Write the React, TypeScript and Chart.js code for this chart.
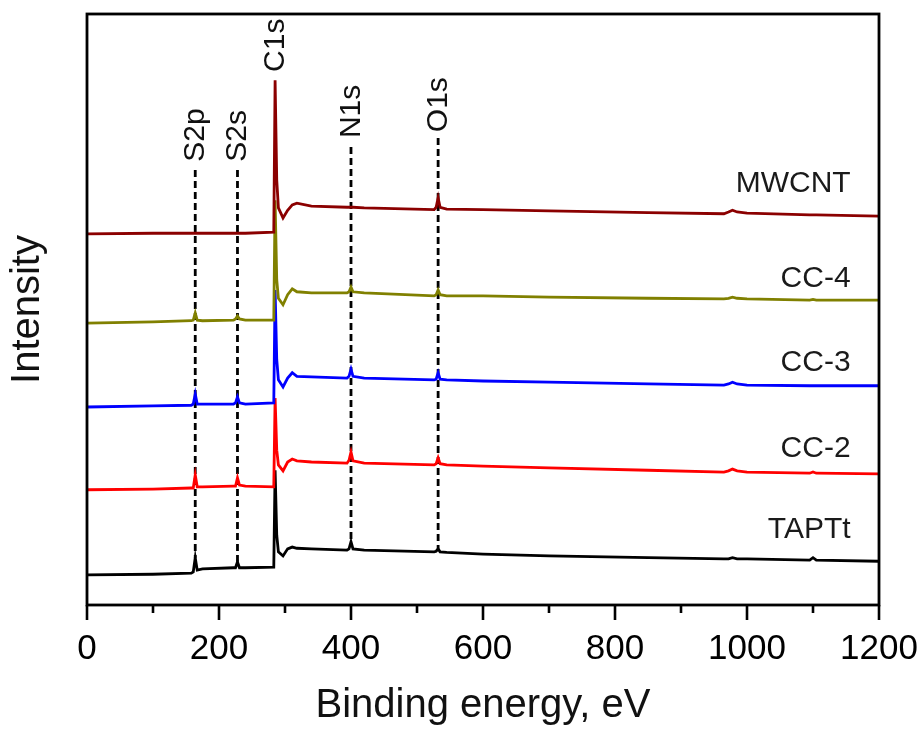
import { useEffect, useRef } from "react";
import { Chart, registerables } from "chart.js";

Chart.register(...registerables);

// Binding energy grid (eV) shared by all survey spectra
const energies = [
  0, 100, 158, 161, 164, 167, 175, 222, 225, 228, 231, 240, 283, 285, 287.5, 290,
  297, 304, 311, 318, 340, 394, 397, 400, 403, 420, 526, 529, 532, 535, 545, 600,
  700, 850, 965, 972, 978, 985, 1000, 1095, 1100, 1105, 1200,
];

// Stacked intensities (arbitrary units, offset per sample)
const mwcnt = [
  62.8, 62.9, 62.9, 62.9, 62.9, 62.9, 62.9, 62.9, 62.9, 62.9, 62.9, 62.9, 63.1, 88.8, 71.9, 67.2,
  65.5, 66.8, 67.7, 68.0, 67.5, 67.3, 67.3, 67.3, 67.3, 67.2, 66.9, 67.3, 68.9, 67.3, 67.0, 66.9,
  66.7, 66.4, 66.2, 66.5, 66.8, 66.5, 66.3, 66.0, 66.0, 66.0, 65.8,
];
const cc4 = [
  47.7, 47.9, 48.1, 48.2, 49.4, 48.2, 48.1, 48.2, 48.4, 48.9, 48.4, 48.2, 48.2, 68.5, 55.0, 51.9,
  50.8, 52.5, 53.5, 53.0, 52.8, 52.8, 53.0, 53.8, 53.0, 52.8, 52.3, 52.5, 53.3, 52.5, 52.3, 52.3,
  52.1, 51.9, 51.8, 51.9, 52.1, 51.9, 51.8, 51.6, 51.7, 51.6, 51.6,
];
const cc3 = [
  33.5, 33.7, 33.8, 34.0, 35.7, 34.0, 34.0, 34.0, 34.2, 35.2, 34.2, 34.0, 34.2, 53.3, 41.5, 38.1,
  36.9, 38.4, 39.3, 38.7, 38.6, 38.4, 38.7, 39.9, 38.7, 38.4, 38.1, 38.2, 39.3, 38.2, 38.1, 37.9,
  37.7, 37.4, 37.2, 37.4, 37.7, 37.4, 37.2, 37.1, 37.1, 37.1, 37.1,
];
const cc2 = [
  19.5, 19.6, 19.8, 19.8, 22.0, 20.0, 20.0, 20.1, 20.1, 21.5, 20.3, 20.1, 20.0, 35.0, 26.2, 23.7,
  22.7, 24.2, 24.7, 24.4, 24.2, 24.0, 24.5, 25.9, 24.4, 24.0, 23.7, 23.9, 24.9, 23.9, 23.7, 23.5,
  23.2, 22.8, 22.5, 22.7, 23.0, 22.7, 22.5, 22.3, 22.5, 22.3, 22.2,
];
const taptt = [
  5.1, 5.2, 5.4, 5.6, 8.0, 5.9, 6.1, 6.3, 6.3, 7.3, 6.3, 6.3, 6.4, 22.8, 11.8, 9.0,
  8.3, 9.5, 9.8, 9.6, 9.5, 9.3, 9.5, 10.7, 9.5, 9.3, 9.0, 9.1, 9.5, 9.0, 8.9, 8.6,
  8.3, 8.0, 7.8, 7.8, 8.0, 7.8, 7.8, 7.6, 8.0, 7.6, 7.4,
];

const seriesNames = ["MWCNT", "CC-4", "CC-3", "CC-2", "TAPTt"];
const seriesValues = [mwcnt, cc4, cc3, cc2, taptt];
const seriesColors = ["#8b0000", "#808000", "#0000ff", "#ff0000", "#000000"];
// Intensity level at which each sample name is written
const seriesLabelLevels = [69.9, 53.8, 39.6, 25.0, 11.3];
const seriesLabelEnergy = 1157;

// Core-level assignments
const peakNames = ["S2p", "S2s", "C1s", "N1s", "O1s"];
const peakEnergies = [164, 228, 285, 400, 532];
const peakLineTops: (number | null)[] = [73.6, 73.6, null, 77.5, 79.0];
const peakLabelLevels = [75.0, 75.0, 90.2, 79.0, 80.0];

const xTicks = [0, 200, 400, 600, 800, 1000, 1200];

const FONT = '"Liberation Sans", Arial, sans-serif';

const decorations = {
  id: "xpsDecorations",
  beforeDatasetsDraw(chart: any) {
    const { ctx, scales } = chart;
    const x = scales.x;
    const y = scales.y;
    ctx.save();
    ctx.setLineDash([7, 4]);
    ctx.lineWidth = 2.8;
    ctx.strokeStyle = "#000";
    peakEnergies.forEach((e, i) => {
      const top = peakLineTops[i];
      if (top == null) return;
      const idx = energies.indexOf(e);
      const bottom = taptt[idx];
      const px = x.getPixelForValue(e);
      ctx.beginPath();
      ctx.moveTo(px, y.getPixelForValue(top));
      ctx.lineTo(px, y.getPixelForValue(bottom));
      ctx.stroke();
    });
    ctx.restore();
  },
  afterDatasetsDraw(chart: any) {
    const { ctx, chartArea, scales } = chart;
    const x = scales.x;
    const y = scales.y;
    ctx.save();
    // frame
    ctx.lineWidth = 2.8;
    ctx.strokeStyle = "#000";
    ctx.strokeRect(
      chartArea.left,
      chartArea.top,
      chartArea.right - chartArea.left,
      chartArea.bottom - chartArea.top
    );
    // outward tick marks: major every 200 eV, minor in between
    ctx.lineWidth = 2.6;
    for (let v = 0; v <= 1200; v += 100) {
      const px = x.getPixelForValue(v);
      const len = xTicks.includes(v) ? 15 : 8;
      ctx.beginPath();
      ctx.moveTo(px, chartArea.bottom);
      ctx.lineTo(px, chartArea.bottom + len);
      ctx.stroke();
    }
    // peak assignment labels, rotated
    ctx.fillStyle = "#111";
    ctx.font = `30px ${FONT}`;
    ctx.textAlign = "left";
    ctx.textBaseline = "alphabetic";
    peakNames.forEach((name, i) => {
      const px = x.getPixelForValue(peakEnergies[i]);
      const py = y.getPixelForValue(peakLabelLevels[i]);
      ctx.save();
      ctx.translate(px + 9, py);
      ctx.rotate(-Math.PI / 2);
      ctx.fillText(name, 0, 0);
      ctx.restore();
    });
    // sample names
    ctx.textAlign = "right";
    ctx.fillStyle = "#1a1a1a";
    seriesNames.forEach((name, i) => {
      ctx.fillText(
        name,
        x.getPixelForValue(seriesLabelEnergy),
        y.getPixelForValue(seriesLabelLevels[i])
      );
    });
    ctx.restore();
  },
};

export default function App() {
  const canvasRef = useRef<HTMLCanvasElement | null>(null);

  useEffect(() => {
    const canvas = canvasRef.current;
    if (!canvas) return;
    const chart = new Chart(canvas, {
      type: "line",
      data: {
        datasets: seriesNames.map((name, i) => ({
          label: name,
          data: energies.map((e, k) => ({ x: e, y: seriesValues[i][k] })),
          borderColor: seriesColors[i],
          backgroundColor: seriesColors[i],
          borderWidth: 2.8,
          pointRadius: 0,
          tension: 0,
          fill: false,
        })),
      },
      options: {
        animation: false,
        responsive: false,
        devicePixelRatio: 1,
        layout: { padding: { left: 0, top: 14, right: 43, bottom: 0 } },
        plugins: { legend: { display: false }, tooltip: { enabled: false } },
        scales: {
          x: {
            type: "linear",
            min: 0,
            max: 1200,
            ticks: {
              stepSize: 100,
              autoSkip: false,
              maxRotation: 0,
              padding: 23,
              color: "#000",
              font: { family: FONT, size: 35 },
              callback: (v: any) => (xTicks.includes(Number(v)) ? String(v) : ""),
            },
            grid: { display: false, drawTicks: false },
            border: { display: false },
            title: {
              display: true,
              text: "Binding energy, eV",
              color: "#111",
              font: { family: FONT, size: 40 },
              padding: { top: 0, bottom: 0 },
            },
            afterFit: (s: any) => {
              s.height = 125;
              s.paddingLeft = 0;
              s.paddingRight = 0;
            },
          },
          y: {
            type: "linear",
            min: 0,
            max: 100,
            ticks: { display: false },
            grid: { display: false, drawTicks: false },
            border: { display: false },
            title: {
              display: true,
              text: "Intensity",
              color: "#111",
              font: { family: FONT, size: 40 },
              padding: { top: 4, bottom: 0 },
            },
            afterFit: (s: any) => {
              s.width = 87;
              s.paddingTop = 0;
              s.paddingBottom = 0;
            },
          },
        },
      },
      plugins: [decorations],
    });
    return () => chart.destroy();
  }, []);

  return (
    <div
      style={{
        position: "absolute",
        left: 0,
        top: 0,
        width: 922,
        height: 730,
        background: "#fff",
      }}
    >
      <canvas ref={canvasRef} width={922} height={730} />
    </div>
  );
}
